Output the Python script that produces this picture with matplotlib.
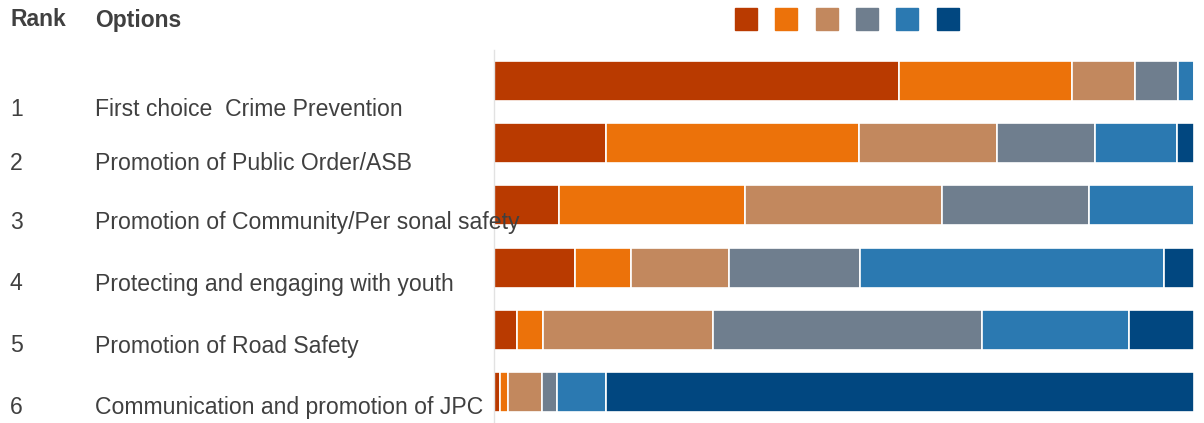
import matplotlib
matplotlib.use("Agg")
import matplotlib.pyplot as plt
from matplotlib.patches import Rectangle
import numpy as np

plt.rcParams['font.family'] = ['Liberation Sans', 'DejaVu Sans']

ranks = ["1", "2", "3", "4", "5", "6"]
options = [
    "First choice  Crime Prevention",
    "Promotion of Public Order/ASB",
    "Promotion of Community/Per sonal safety",
    "Protecting and engaging with youth",
    "Promotion of Road Safety",
    "Communication and promotion of JPC",
]
# share of respondents (%) placing each option at choice 1..6
choice1 = [57.9, 16.0, 9.3, 11.6, 3.3, 0.9]
choice2 = [24.6, 36.1, 26.6, 8.0, 3.7, 1.1]
choice3 = [9.1, 19.7, 28.1, 14.0, 24.3, 4.9]
choice4 = [6.1, 14.1, 21.0, 18.7, 38.4, 2.1]
choice5 = [2.3, 11.7, 15.0, 43.4, 21.0, 7.0]
choice6 = [0.0, 2.4, 0.0, 4.3, 9.3, 84.0]

series = [choice1, choice2, choice3, choice4, choice5, choice6]
colors = ["#B93A00", "#EC720A", "#C2885E", "#6F7E8E", "#2B79B1", "#014780"]

W, H = 1204, 423
fig = plt.figure(figsize=(W / 100, H / 100), dpi=100)
ax = fig.add_axes([494 / W, 0, 700 / W, (H - 50) / H])

y = np.arange(len(options))
left = np.zeros(len(options))
for vals, col in zip(series, colors):
    vals = np.array(vals)
    ax.barh(y, vals, left=left, height=0.645, color=col,
            edgecolor="white", linewidth=1.2, zorder=2)
    left += vals

ax.set_xlim(0, 100)
ax.set_ylim(5.5, -0.5)
ax.set_xticks([])
ax.set_yticks([])
for s in ["top", "right", "bottom"]:
    ax.spines[s].set_visible(False)
ax.spines["left"].set_color("#e2e2e2")
ax.spines["left"].set_linewidth(1.0)

# legend swatches along the top
for i, col in enumerate(colors):
    x0 = 735 + i * 40.3
    fig.add_artist(Rectangle((x0 / W, 1 - 30 / H), 22 / W, 22 / H,
                             transform=fig.transFigure, color=col))

txt = "#404040"
fig.text(10 / W, 1 - 20 / H, "Rank", fontsize=16.5, fontweight="bold",
         color=txt, va="center", ha="left")
fig.text(95 / W, 1 - 20 / H, "Options", fontsize=16.5, fontweight="bold",
         color=txt, va="center", ha="left")

label_y = [109, 163, 222, 284, 346, 407]
for r, opt, ly in zip(ranks, options, label_y):
    fig.text(10 / W, 1 - ly / H, r, fontsize=16.6, color=txt,
             va="center", ha="left", zorder=5)
    fig.text(95 / W, 1 - ly / H, opt, fontsize=16.6, color=txt,
             va="center", ha="left", zorder=5)

fig.savefig("out.png", dpi=100)
